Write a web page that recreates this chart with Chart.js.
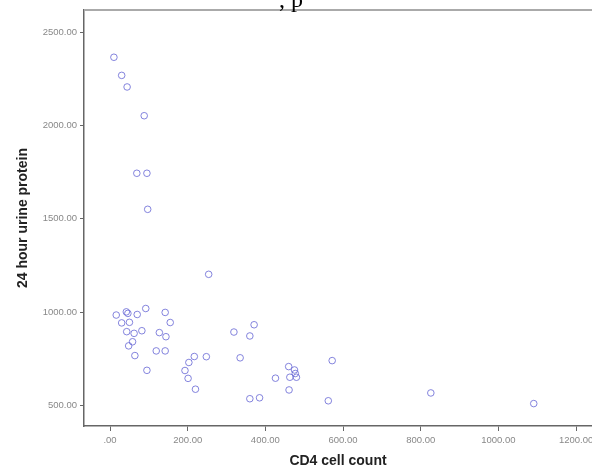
<!DOCTYPE html>
<html>
<head>
<meta charset="utf-8">
<script src="https://cdn.jsdelivr.net/npm/chart.js@4.4.0/dist/chart.umd.min.js"></script>
<style>
  body { margin: 0; background: #fff; }
  #wrap { width: 592px; height: 468px; }
</style>
</head>
<body>
<div id="wrap"><canvas id="scatterChart" width="592" height="468"></canvas></div>
<script>
// values
const cd4Count = [10, 30, 44, 88, 69, 95, 97, 254, 16, 42, 46, 70, 92, 142, 155, 30, 50, 43, 62, 82,
    127, 144, 58, 48, 64, 119, 142, 95, 217, 248, 203, 193, 201, 220, 319, 371, 360, 335, 426, 360,
    385, 460, 475, 477, 463, 480, 461, 572, 562, 826, 1091];
const urineProtein = [2365, 2268, 2206, 2052, 1744, 1744, 1551, 1203, 985, 1002, 994, 988, 1020, 999, 945, 943, 946, 896, 887, 901,
    891, 869, 842, 820, 768, 793, 793, 689, 763, 762, 731, 688, 646, 588, 894, 933, 873, 756, 647, 537,
    542, 709, 691, 672, 652, 652, 584, 741, 526, 568, 511];

const xTicks = [0, 200, 400, 600, 800, 1000, 1200];
const xTickLabels = ['.00', '200.00', '400.00', '600.00', '800.00', '1000.00', '1200.00'];
const yTicks = [500, 1000, 1500, 2000, 2500];
const yTickLabels = ['500.00', '1000.00', '1500.00', '2000.00', '2500.00'];

const points = cd4Count.map((x, i) => ({ x: x, y: urineProtein[i] }));

const frame = {
    id: 'frame',
    afterDraw(chart) {
        const ctx = chart.ctx;
        const a = chart.chartArea;
        ctx.save();
        ctx.strokeStyle = '#aaaaaa';
        ctx.lineWidth = 2;
        ctx.beginPath();
        ctx.moveTo(a.left, a.top);
        ctx.lineTo(chart.width, a.top);
        ctx.stroke();
        // cut-off caption text above the chart
        ctx.fillStyle = '#000';
        ctx.font = '24px "Liberation Serif"';
        ctx.textBaseline = 'alphabetic';
        ctx.fillText(', p', 279, 7);
        ctx.restore();
    }
};

new Chart(document.getElementById('scatterChart').getContext('2d'), {
    type: 'scatter',
    data: {
        datasets: [{
            data: points,
            pointStyle: 'circle',
            pointRadius: 3.3,
            pointHoverRadius: 3.3,
            pointBorderWidth: 1,
            pointBorderColor: 'rgba(110, 110, 215, 0.85)',
            pointBackgroundColor: 'rgba(0,0,0,0)'
        }]
    },
    options: {
        responsive: false,
        animation: false,
        layout: { autoPadding: false, padding: { top: 10, right: 0, left: 0, bottom: 0 } },
        plugins: {
            legend: { display: false },
            tooltip: { enabled: false }
        },
        scales: {
            x: {
                type: 'linear',
                min: -67,
                max: 1241,
                afterBuildTicks: (s) => { s.ticks = xTicks.map(v => ({ value: v })); },
                afterFit: (s) => { s.height = 42; s.paddingRight = 0; s.paddingLeft = 0; },
                border: { display: true, color: '#666', width: 1.5 },
                grid: { drawOnChartArea: false, drawTicks: true, tickLength: 5, color: '#666' },
                ticks: {
                    padding: 4,
                    color: '#888',
                    font: { family: 'Liberation Sans', size: 9.5 },
                    maxRotation: 0,
                    autoSkip: false,
                    callback: (v) => xTickLabels[xTicks.indexOf(v)]
                },
                title: {
                    display: true,
                    text: 'CD4 cell count',
                    color: '#222',
                    font: { family: 'Liberation Sans', size: 14, weight: 'bold', lineHeight: 1 },
                    padding: { top: 0, bottom: 0 }
                }
            },
            y: {
                type: 'linear',
                min: 391,
                max: 2618,
                afterBuildTicks: (s) => { s.ticks = yTicks.map(v => ({ value: v })); },
                afterFit: (s) => { s.width = 84; s.paddingTop = 0; s.paddingBottom = 0; },
                border: { display: true, color: '#666', width: 1.5 },
                grid: { drawOnChartArea: false, drawTicks: true, tickLength: 4, color: '#666' },
                ticks: {
                    padding: 3,
                    color: '#888',
                    font: { family: 'Liberation Sans', size: 9.5 },
                    callback: (v) => yTickLabels[yTicks.indexOf(v)]
                },
                title: {
                    display: true,
                    text: '24 hour urine protein',
                    color: '#222',
                    font: { family: 'Liberation Sans', size: 14, weight: 'bold', lineHeight: 1.2 },
                    padding: { top: 15, bottom: 0 }
                }
            }
        }
    },
    plugins: [frame]
});
</script>
</body>
</html>
